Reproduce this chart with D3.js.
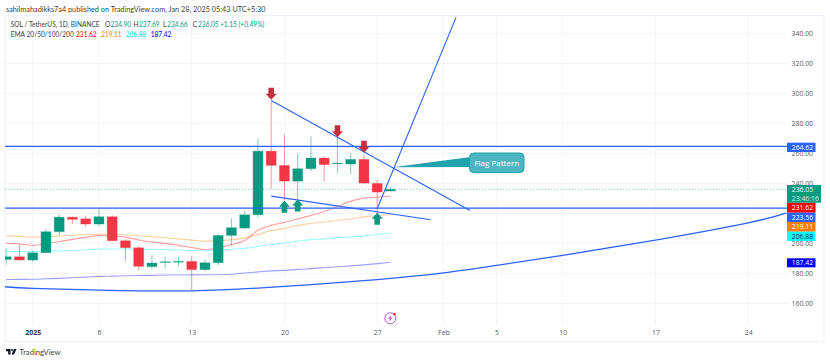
<!DOCTYPE html>
<html>
<head>
<meta charset="utf-8">
<script src="https://cdn.jsdelivr.net/npm/d3@7"></script>
<style>
  html, body { margin: 0; padding: 0; background: #fff; }
  svg { display: block; }
  text { font-family: "Open Sans", sans-serif; }
  .lato { font-family: Lato, sans-serif; }
</style>
</head>
<body>
<script>
const width = 830;
const height = 362;

// days counted from Jan 1 2025
const candleDays = [-2,-1,0,1,2,3,4,5,6,7,8,9,10,11,12,13,14,15,16,17,18,19,20,21,22,23,24,25,26,27];
const opens  = [189.3,191.1,188.9,193.8,207.8,217.5,216.4,212.9,217.8,201.8,197.1,184.5,187.3,187.5,188,182.5,187.1,205.3,210.2,219.1,261.5,252,241.5,249.8,256.9,253.3,252.9,256,240,234.9];
const highs  = [196.7,199.1,195.1,209.8,219.3,218,218.7,222.7,218.7,202.9,198.5,192.5,191.3,190.9,191.5,189.3,206,216.7,221.5,270,295,272.7,259.8,271.3,258,271,260.2,259.3,242.5,237.69];
const lows   = [186,188.5,187.8,193.5,205,212.9,210.9,211.5,201.5,188.2,181.8,183.1,183.5,184.7,168.7,181.5,185.3,198.2,209.5,217.1,236.2,228.7,228.7,248.2,241.5,246.9,246,240,219.8,234.66];
const closes = [191.1,188.9,193.8,207.8,217.5,216,212.9,217.8,201.8,197.1,184.7,186.9,187.8,188,182.5,187.1,205.3,210.5,219.1,261.5,252,241.5,249.8,256.9,252.5,253.6,256,240.2,234.2,236.05];

const ema20  = [200.2,199.7,198.7,199.7,201.3,202.7,204,205.3,205,204.2,202.3,201,200,198.7,197.3,195.8,197,199.3,202,208.7,212,214,216.3,218.7,221.3,224.7,228,230.2,230.8,231.62];
const ema50  = [205.1,204.7,204.2,204.5,204.9,205.3,205.8,206.2,206,205.8,205.1,204.5,203.8,203,202.2,201.5,201.7,202.5,203.7,206,208.5,210,212,213.3,214.3,215.3,216.3,217.7,218.5,219.11];
const ema100 = [194.5,194.5,194.7,194.8,195,195.3,195.8,196.2,196.3,196.3,196.1,196,195.9,195.6,195.3,195.1,195.5,196.1,196.7,198,199.3,200.3,201.5,202.5,203,203.7,204.3,205,206,206.88];
const ema200 = [175.9,176,176.1,176.4,176.7,177.1,177.5,178,178.2,178.4,178.6,178.7,178.9,178.9,179,179.1,179.1,179.4,180.3,181,181.7,182,182.7,183.2,183.8,184.4,185,185.7,186.5,187.42];

const priceTicks = [340,320,300,280,260,240,220,200,180,160];
const timeTickDays = [0,5,12,19,26,31,35,40,47,54];
const timeTickLabels = ["2025","6","13","20","27","Feb","5","10","17","24"];

const levels = [264.62,223.56];
const upperLine = [[18,295.3],[33,222]];
const lowerLine = [[18,231.5],[30.04,215.8]];
const poleLine = [[26,223.1],[31.95,350.7]];
const arcDays = [-2.09,0,5,12,19,26,31,35,40,47,54,56.9];
const arcPrices = [171.1,170,168.9,168.4,171.3,175.9,180.3,185.3,192,202.2,213.7,220.4];

const downDays = [18,23,25];
const downPrices = [295.8,270.7,260.4];
const upDays = [19,20,26];
const upPrices = [228.4,229.3,220.4];

const flagTip = [27.2,250.7];

const blue = "#2962ff";
const green = "#089981";
const red = "#f23645";

const x = d3.scaleLinear().domain([0,19]).range([32.7,284.45]);
const y = d3.scaleLinear().domain([340,160]).range([33.4,303.4]);

const svg = d3.select("body").append("svg").attr("width",width).attr("height",height);
svg.append("rect").attr("width",width).attr("height",height).attr("fill","#fff");

svg.append("defs").append("clipPath").attr("id","plot")
    .append("rect").attr("x",5).attr("y",16).attr("width",782).attr("height",309);

// frame
svg.append("rect").attr("x",5).attr("y",15.5).attr("width",819).attr("height",326)
    .attr("fill","none").attr("stroke","#f0f3fa").attr("stroke-width",1.2);

// grid
svg.append("g").selectAll("line").data(priceTicks).enter().append("line")
    .attr("x1",5).attr("x2",787)
    .attr("y1",d => y(d)).attr("y2",d => y(d))
    .attr("stroke","#f3f4f8");
svg.append("g").selectAll("line").data(timeTickDays).enter().append("line")
    .attr("x1",d => x(d)).attr("x2",d => x(d))
    .attr("y1",16).attr("y2",325)
    .attr("stroke","#f3f4f8");

// axes, 220 sits fully behind the price labels so it gets no text
const yAxis = d3.axisRight(y).tickValues(priceTicks.filter(d => d !== 220)).tickSize(0).tickPadding(4.5).tickFormat(d3.format(".2f"));
const gy = svg.append("g").attr("transform","translate(787,0)").call(yAxis);
gy.select(".domain").remove();
gy.selectAll("text").attr("font-size",6.9).attr("fill","#555a66").style("font-family","'Open Sans', sans-serif");

const xAxis = d3.axisBottom(x).tickValues(timeTickDays).tickSize(0).tickPadding(0)
    .tickFormat(d => timeTickLabels[timeTickDays.indexOf(d)]);
const gx = svg.append("g").attr("transform","translate(0,330)").call(xAxis);
gx.select(".domain").remove();
gx.selectAll("text").attr("font-size",7).attr("fill","#555a66").style("font-family","'Open Sans', sans-serif");
gx.selectAll("text").filter(d => d === 0).attr("font-weight",700).attr("fill","#333");

const plot = svg.append("g").attr("clip-path","url(#plot)");

// last price dotted line
plot.append("line").attr("x1",5).attr("x2",787).attr("y1",y(236.05)).attr("y2",y(236.05))
    .attr("stroke",green).attr("stroke-opacity",.4).attr("stroke-dasharray","1.5 1.5");

// emas
const emaLine = d3.line().x((d,i) => x(candleDays[i])).y(d => y(d)).curve(d3.curveMonotoneX);
[[ema20,"#ff0000"],[ema50,"#ff8000"],[ema100,"#00ffff"],[ema200,"#0000ff"]].forEach(function(e){
    plot.append("path").attr("d",emaLine(e[0])).attr("fill","none")
        .attr("stroke",e[1]).attr("stroke-opacity",.38).attr("stroke-width",1.1);
});

// candles
const candles = plot.selectAll(".candle").data(candleDays).enter().append("g").attr("class","candle");
candles.append("line")
    .attr("x1",d => x(d)).attr("x2",d => x(d))
    .attr("y1",(d,i) => y(highs[i])).attr("y2",(d,i) => y(lows[i]))
    .attr("stroke",(d,i) => closes[i] >= opens[i] ? green : red)
    .attr("stroke-opacity",.5);
candles.append("rect")
    .attr("x",d => x(d)-5)
    .attr("width",10)
    .attr("y",(d,i) => y(Math.max(opens[i],closes[i])))
    .attr("height",(d,i) => Math.max(0.8,Math.abs(y(opens[i])-y(closes[i]))))
    .attr("fill",(d,i) => closes[i] >= opens[i] ? green : red)
    .attr("stroke",(d,i) => closes[i] >= opens[i] ? green : red)
    .attr("stroke-opacity",.25);

// drawings
const seg = d3.line().x(d => x(d[0])).y(d => y(d[1]));
plot.selectAll(".level").data(levels).enter().append("line").attr("class","level")
    .attr("x1",5).attr("x2",787).attr("y1",d => y(d)).attr("y2",d => y(d))
    .attr("stroke",blue).attr("stroke-width",1.2);
[upperLine,lowerLine,poleLine].forEach(function(l){
    plot.append("path").attr("d",seg(l)).attr("fill","none").attr("stroke",blue).attr("stroke-width",1.1);
});
const arc = d3.line().x(d => x(d)).y((d,i) => y(arcPrices[i])).curve(d3.curveNatural);
plot.append("path").attr("d",arc(arcDays)).attr("fill","none").attr("stroke",blue).attr("stroke-width",1.3);

// arrows, tip at the given price
function arrow(cx, tip, dir){
    const h = 12 * dir, head = 6 * dir;
    return "M" + cx + "," + tip + "L" + (cx+5.5) + "," + (tip-head) + "L" + (cx+2.8) + "," + (tip-head)
        + "L" + (cx+2.8) + "," + (tip-h) + "L" + (cx-2.8) + "," + (tip-h) + "L" + (cx-2.8) + "," + (tip-head)
        + "L" + (cx-5.5) + "," + (tip-head) + "Z";
}
svg.selectAll(".down").data(downDays).enter().append("path").attr("class","down")
    .attr("d",(d,i) => arrow(x(d),y(downPrices[i]),1)).attr("fill","#c42f3e");
svg.selectAll(".up").data(upDays).enter().append("path").attr("class","up")
    .attr("d",(d,i) => arrow(x(d),y(upPrices[i]),-1)).attr("fill",green);

// callout
const bx = 469.5, by = 153, bw = 54.5, bh = 19.5;
svg.append("path")
    .attr("d","M" + x(flagTip[0]) + "," + y(flagTip[1]) + "L" + (bx+1) + "," + (by+4) + "L" + (bx+1) + "," + (by+14) + "Z")
    .attr("fill","#22a2ae");
svg.append("rect").attr("x",bx).attr("y",by).attr("width",bw).attr("height",bh).attr("rx",4)
    .attr("fill","#4db6c2").attr("stroke","#22a2ae").attr("stroke-width",1);
svg.append("text").attr("x",bx+bw/2).attr("y",by+13).attr("text-anchor","middle")
    .attr("font-size",8).attr("fill","#fff").text("Flag Pattern");

// price labels
const priceLabels = [
    ["264.62",142.7,9.3,blue,"#fff",28.5],
    ["231.62",202.7,10,"#ff0000","#fff",28.5],
    ["223.56",212.7,9.3,blue,"#fff",28.5],
    ["219.11",222,9.7,"#ff8000","#fff",28.5],
    ["206.88",231.7,9.3,"#00ffff","#123",28.5],
    ["187.42",258.3,9,"#0000ff","#fff",28.5]
];
priceLabels.forEach(function(p){
    svg.append("rect").attr("x",787).attr("y",p[1]).attr("width",p[5]).attr("height",p[2]).attr("fill",p[3]);
    svg.append("text").attr("x",791.7).attr("y",p[1]+p[2]/2+2.4).attr("font-size",6.9).attr("fill",p[4]).text(p[0]);
});
svg.append("rect").attr("x",787).attr("y",185).attr("width",34).attr("height",17.7).attr("fill",green);
svg.append("text").attr("x",791.7).attr("y",192.3).attr("font-size",6.9).attr("fill","#fff").text("236.05");
svg.append("text").attr("x",791.7).attr("y",200.8).attr("font-size",6.9).attr("fill","#d5efe9").text("23:46:16");

// header
svg.append("text").attr("class","lato").attr("x",6).attr("y",12).attr("font-size",7.3).attr("fill","#444")
    .text("sahilmahadikks7a4 published on TradingView.com, Jan 28, 2025 05:43 UTC+5:30");

function legendRow(yPos, size, parts){
    parts.forEach(function(p){
        svg.append("text").attr("class","lato").attr("x",p[0]).attr("y",yPos).attr("font-size",size).attr("fill",p[2]).text(p[1]);
    });
}
legendRow(27,6.6,[[10.7,"SOL / TetherUS, 1D, BINANCE","#444"],[105,"O","#444"],[110.5,"234.90",green],[133.5,"H","#444"],[139,"237.69",green],[163,"L","#444"],[167,"234.66",green],[192.7,"C","#444"],[198,"236.05",green],[220,"+1.15 (+0.49%)",green]]);
legendRow(36.7,6.6,[[10.7,"EMA 20/50/100/200","#444"],[76,"231.62","#ff0000"],[101,"219.11","#ff8000"],[125.7,"206.88","#00e5e5"],[150.7,"187.42","#0000ff"]]);

// news icon
const icon = svg.append("g").attr("transform","translate(390.3,318.3)");
icon.append("circle").attr("r",5.5).attr("fill","#fff").attr("stroke","#b84fc9").attr("stroke-width",1);
icon.append("path").attr("d","M1,-3.5L-2,0.6L-0.3,0.6L-1,3.5L2,-0.6L0.3,-0.6Z").attr("fill","#b84fc9");
icon.append("circle").attr("cx",4.2).attr("cy",-4.2).attr("r",1.4).attr("fill","#f23645");

// logo
const logo = svg.append("g").attr("transform","translate(6,349)").attr("fill","#131722");
logo.append("path").attr("d","M0,0H4.5V5.5H2.2V2.2H0Z");
logo.append("circle").attr("cx",6).attr("cy",1).attr("r",1);
logo.append("path").attr("d","M8,0H10.5L8,5.5H5.5Z");
svg.append("text").attr("class","lato").attr("x",19.5).attr("y",355).attr("font-size",7.6).attr("fill","#444").text("TradingView");
</script>
</body>
</html>
